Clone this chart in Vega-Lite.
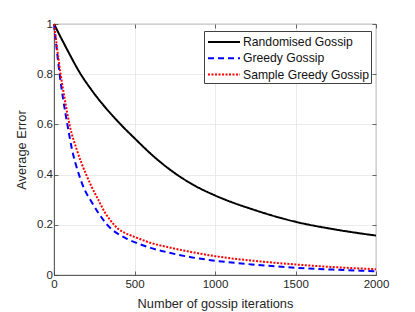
{
  "$schema": "https://vega.github.io/schema/vega-lite/v6.json",
  "width": 322,
  "height": 251,
  "autosize": {"type": "none"},
  "padding": {"left": 54, "top": 24, "right": 39, "bottom": 37},
  "config": {
    "font": "Liberation Sans",
    "view": {"stroke": "#404040", "strokeWidth": 0.8},
    "axis": {
      "labelFont": "Liberation Sans",
      "titleFont": "Liberation Sans",
      "labelFontSize": 11.5,
      "titleFontSize": 12.8,
      "titleFontWeight": "normal",
      "labelColor": "#262626",
      "titleColor": "#262626",
      "labelFlush": false,
      "domainColor": "#404040",
      "domainWidth": 0.8,
      "tickColor": "#404040",
      "tickWidth": 0.8,
      "tickSize": -4,
      "gridColor": "#e5e5e5",
      "gridWidth": 0.8
    },
    "legend": {
      "labelFont": "Liberation Sans",
      "labelFontWeight": "normal"
    }
  },
  "data": {
    "values": [
      {"s": "Randomised Gossip", "x": 0, "y": 1},
      {"s": "Randomised Gossip", "x": 80, "y": 0.9},
      {"s": "Randomised Gossip", "x": 166, "y": 0.8},
      {"s": "Randomised Gossip", "x": 230, "y": 0.74},
      {"s": "Randomised Gossip", "x": 414, "y": 0.6},
      {"s": "Randomised Gossip", "x": 500, "y": 0.545},
      {"s": "Randomised Gossip", "x": 620, "y": 0.472},
      {"s": "Randomised Gossip", "x": 752, "y": 0.405},
      {"s": "Randomised Gossip", "x": 880, "y": 0.354},
      {"s": "Randomised Gossip", "x": 1000, "y": 0.317},
      {"s": "Randomised Gossip", "x": 1250, "y": 0.258},
      {"s": "Randomised Gossip", "x": 1500, "y": 0.212},
      {"s": "Randomised Gossip", "x": 1750, "y": 0.181},
      {"s": "Randomised Gossip", "x": 2000, "y": 0.157},
      {"s": "Greedy Gossip", "x": 0, "y": 1},
      {"s": "Greedy Gossip", "x": 17, "y": 0.9},
      {"s": "Greedy Gossip", "x": 35, "y": 0.8},
      {"s": "Greedy Gossip", "x": 57, "y": 0.7},
      {"s": "Greedy Gossip", "x": 83, "y": 0.6},
      {"s": "Greedy Gossip", "x": 112, "y": 0.5},
      {"s": "Greedy Gossip", "x": 155, "y": 0.4},
      {"s": "Greedy Gossip", "x": 190, "y": 0.34},
      {"s": "Greedy Gossip", "x": 228, "y": 0.297},
      {"s": "Greedy Gossip", "x": 280, "y": 0.243},
      {"s": "Greedy Gossip", "x": 331, "y": 0.2},
      {"s": "Greedy Gossip", "x": 360, "y": 0.181},
      {"s": "Greedy Gossip", "x": 400, "y": 0.163},
      {"s": "Greedy Gossip", "x": 450, "y": 0.145},
      {"s": "Greedy Gossip", "x": 500, "y": 0.131},
      {"s": "Greedy Gossip", "x": 600, "y": 0.108},
      {"s": "Greedy Gossip", "x": 700, "y": 0.091},
      {"s": "Greedy Gossip", "x": 850, "y": 0.071},
      {"s": "Greedy Gossip", "x": 1000, "y": 0.057},
      {"s": "Greedy Gossip", "x": 1250, "y": 0.041},
      {"s": "Greedy Gossip", "x": 1500, "y": 0.029},
      {"s": "Greedy Gossip", "x": 1750, "y": 0.021},
      {"s": "Greedy Gossip", "x": 2000, "y": 0.015},
      {"s": "Sample Greedy Gossip", "x": 0, "y": 1},
      {"s": "Sample Greedy Gossip", "x": 20, "y": 0.9},
      {"s": "Sample Greedy Gossip", "x": 41, "y": 0.8},
      {"s": "Sample Greedy Gossip", "x": 67, "y": 0.7},
      {"s": "Sample Greedy Gossip", "x": 96, "y": 0.6},
      {"s": "Sample Greedy Gossip", "x": 141, "y": 0.5},
      {"s": "Sample Greedy Gossip", "x": 200, "y": 0.4},
      {"s": "Sample Greedy Gossip", "x": 235, "y": 0.35},
      {"s": "Sample Greedy Gossip", "x": 275, "y": 0.3},
      {"s": "Sample Greedy Gossip", "x": 320, "y": 0.245},
      {"s": "Sample Greedy Gossip", "x": 350, "y": 0.218},
      {"s": "Sample Greedy Gossip", "x": 373, "y": 0.2},
      {"s": "Sample Greedy Gossip", "x": 400, "y": 0.183},
      {"s": "Sample Greedy Gossip", "x": 450, "y": 0.165},
      {"s": "Sample Greedy Gossip", "x": 500, "y": 0.152},
      {"s": "Sample Greedy Gossip", "x": 600, "y": 0.128},
      {"s": "Sample Greedy Gossip", "x": 700, "y": 0.112},
      {"s": "Sample Greedy Gossip", "x": 850, "y": 0.092},
      {"s": "Sample Greedy Gossip", "x": 1000, "y": 0.075},
      {"s": "Sample Greedy Gossip", "x": 1250, "y": 0.056},
      {"s": "Sample Greedy Gossip", "x": 1500, "y": 0.042},
      {"s": "Sample Greedy Gossip", "x": 1750, "y": 0.031},
      {"s": "Sample Greedy Gossip", "x": 2000, "y": 0.023}
    ]
  },
  "resolve": {"axis": {"x": "independent", "y": "independent"}},
  "layer": [
    {
      "mark": {"type": "line", "strokeWidth": 2, "interpolate": "monotone"},
      "encoding": {
        "x": {
          "field": "x", "type": "quantitative",
          "scale": {"domain": [0, 2000], "nice": false, "zero": false},
          "axis": {"values": [0, 500, 1000, 1500, 2000], "format": "d", "title": "Number of gossip iterations", "labelPadding": 7, "titlePadding": 8}
        },
        "y": {
          "field": "y", "type": "quantitative",
          "scale": {"domain": [0, 1], "nice": false},
          "axis": {"values": [0, 0.2, 0.4, 0.6, 0.8, 1], "format": "~g", "title": "Average Error", "labelPadding": 5.5, "titlePadding": 8}
        },
        "color": {
          "field": "s", "type": "nominal",
          "scale": {"domain": ["Randomised Gossip", "Greedy Gossip", "Sample Greedy Gossip"], "range": ["#000000", "#0000ff", "#ff0000"]},
          "legend": {"title": null, "orient": "none", "legendX": 150, "legendY": 7, "symbolType": "M-2,0H2", "symbolSize": 256, "symbolStrokeWidth": 2, "labelFontSize": 12.2, "labelColor": "#111111", "strokeColor": "#404040", "fillColor": "white", "padding": 2, "rowPadding": 0.3, "symbolOffset": 9, "labelOffset": 10}
        },
        "strokeDash": {
          "field": "s", "type": "nominal",
          "scale": {"domain": ["Randomised Gossip", "Greedy Gossip", "Sample Greedy Gossip"], "range": [[1, 0], [6, 4], [2, 1.5]]},
          "legend": {"title": null, "orient": "none", "legendX": 150, "legendY": 7, "symbolType": "M-2,0H2", "symbolSize": 256, "symbolStrokeWidth": 2, "labelFontSize": 12.2, "labelColor": "#111111", "strokeColor": "#404040", "fillColor": "white", "padding": 2, "rowPadding": 0.3, "symbolOffset": 9, "labelOffset": 10}
        }
      }
    },
    {
      "mark": {"type": "point", "opacity": 0},
      "encoding": {
        "x": {"field": "x", "type": "quantitative", "scale": {"domain": [0, 2000], "nice": false, "zero": false}, "axis": {"orient": "top", "values": [0, 500, 1000, 1500, 2000], "labels": false, "grid": false, "domain": false, "title": null}},
        "y": {"field": "y", "type": "quantitative", "scale": {"domain": [0, 1], "nice": false}, "axis": {"orient": "right", "values": [0, 0.2, 0.4, 0.6, 0.8, 1], "labels": false, "grid": false, "domain": false, "title": null}}
      }
    }
  ]
}
